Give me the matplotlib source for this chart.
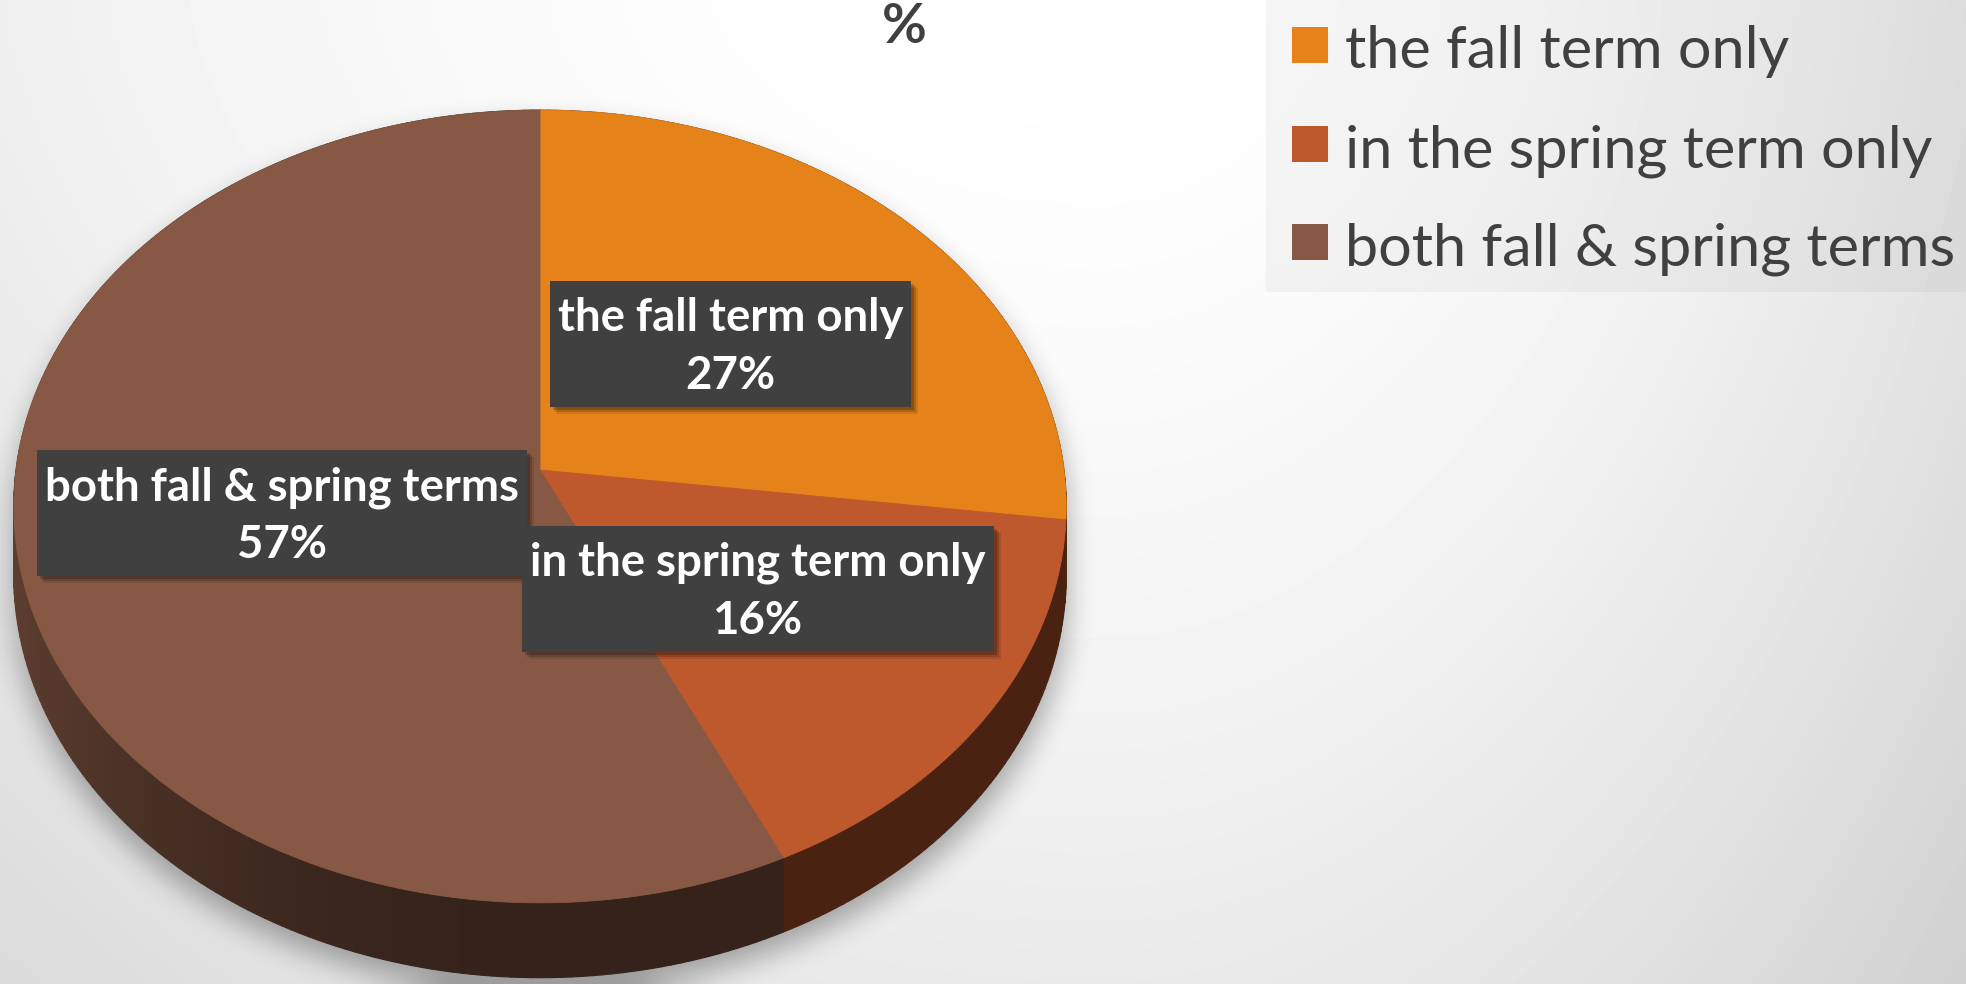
import numpy as np
import matplotlib
matplotlib.use("Agg")
import matplotlib.pyplot as plt
from matplotlib.patches import Polygon, Rectangle
from matplotlib.collections import PolyCollection
from matplotlib.colors import to_rgb

# data
categories = ["the fall term only", "in the spring term only", "both fall & spring terms"]
shares = [27, 16, 57]
colors = ["#E5821A", "#BE582D", "#875945"]
title = "%"

FONT = ["Lato", "DejaVu Sans"]
TXT = "#404040"

W, H = 1966, 984
fig = plt.figure(figsize=(W / 100, H / 100), dpi=100)
ax = fig.add_axes([0, 0, 1, 1])
ax.set_xlim(0, W)
ax.set_ylim(H, 0)
ax.axis("off")
renderer = fig.canvas.get_renderer()

# soft grey background, brightest near the top middle
yy, xx = np.mgrid[0:H, 0:W]
l = np.clip((1100 - xx) / 1100, 0, 1)
r = np.clip((xx - 1100) / 866, 0, 1)
bg = 255 - 16 * l ** 2 - 26 * r ** 2 - 21 * (yy / H) ** 1.5
ax.imshow(bg / 255, cmap="gray", vmin=0, vmax=1, extent=(0, W, H, 0), aspect="auto", zorder=0)

# perspective pie geometry (pixels)
cx, cy = 540, 470
R, Ry, k = 524, 393, 0.092
depth = 68


def project(theta, rad=1.0):
    X = rad * np.sin(theta)
    Y = rad * np.cos(theta)
    s = 1 / (1 + k * Y)
    return cx + R * X * s, cy - Ry * Y * s, s


def shift_down(a, n):
    out = np.zeros_like(a)
    out[n:] = a[:H - n] if n else a
    return out


def blur(a, rr):
    for axis in (0, 1):
        pad = [(rr + 1, rr) if i == axis else (0, 0) for i in range(2)]
        c = np.cumsum(np.pad(a, pad, mode="edge"), axis=axis)
        n = c.shape[axis]
        a = (np.take(c, range(2 * rr + 1, n), axis=axis) - np.take(c, range(0, n - 2 * rr - 1), axis=axis)) / (2 * rr + 1)
    return a


# drop shadow from the pie silhouette
u = (cy - yy) / Ry
Yd = u / (1 - k * u)
Xd = (xx - cx) * (1 + k * Yd) / R
top = (Xd ** 2 + Yd ** 2) <= 1
sil = top.copy()
for sh in range(0, depth + 8, 3):
    sil |= shift_down(top, sh)
sh_mask = shift_down(sil, 14).astype(float)
for _ in range(3):
    sh_mask = blur(sh_mask, 13)
shadow = np.zeros((H, W, 4))
shadow[..., 3] = 0.32 * sh_mask
ax.imshow(shadow, extent=(0, W, H, 0), aspect="auto", zorder=1)

total = sum(shares)
bounds = np.cumsum([0] + shares) / total * 2 * np.pi

# side wall, back segments first
segs = []
for i, (a0, a1) in enumerate(zip(bounds[:-1], bounds[1:])):
    t = np.linspace(a0, a1, max(int(np.degrees(a1 - a0)), 2) + 1)
    for t0, t1 in zip(t[:-1], t[1:]):
        segs.append((np.cos((t0 + t1) / 2), i, t0, t1))
segs.sort(key=lambda q: -q[0])
quads, qcols = [], []
for _, i, t0, t1 in segs:
    x0, y0, s0 = project(t0)
    x1, y1, s1 = project(t1)
    quads.append([(x0, y0), (x1, y1), (x1, y1 + depth * s1), (x0, y0 + depth * s0)])
    tm = (t0 + t1) / 2
    shade = 0.39 + 0.31 * max(0.0, -np.sin(tm)) ** 2
    qcols.append(tuple(np.array(to_rgb(colors[i])) * shade))
ax.add_collection(PolyCollection(quads, facecolors=qcols, edgecolors=qcols, linewidths=0.8, zorder=3))

# top faces
for i, (a0, a1) in enumerate(zip(bounds[:-1], bounds[1:])):
    t = np.linspace(a0, a1, 240)
    x, y, _ = project(t)
    pts = np.column_stack([np.r_[cx, x], np.r_[cy, y]])
    ax.add_patch(Polygon(pts, closed=True, facecolor=colors[i], edgecolor=colors[i], lw=0.6, zorder=4))


def text_width(s, size, weight):
    t = ax.text(0, 0, s, fontsize=size, fontweight=weight, family=FONT)
    w = t.get_window_extent(renderer).width
    t.remove()
    return w


# data labels in dark boxes
lab_size = 20 * 345 / text_width(categories[0], 20, "bold")
for i, (a0, a1) in enumerate(zip(bounds[:-1], bounds[1:])):
    lx, ly, _ = project((a0 + a1) / 2, 0.5)
    w = text_width(categories[i], lab_size, "bold") + 16
    h = 126
    for off, al in [(7, 0.10), (5, 0.15), (3, 0.2)]:
        ax.add_patch(Rectangle((lx - w / 2 + off, ly - h / 2 + off), w, h, facecolor="black",
                               alpha=al, lw=0, zorder=5))
    ax.add_patch(Rectangle((lx - w / 2, ly - h / 2), w, h, facecolor="#404040", lw=0, zorder=6))
    ax.text(lx, ly - 13, categories[i], ha="center", va="baseline", color="white",
            fontsize=lab_size, fontweight="bold", family=FONT, zorder=7)
    ax.text(lx, ly + 45, f"{shares[i]}%", ha="center", va="baseline", color="white",
            fontsize=lab_size, fontweight="bold", family=FONT, zorder=7)

# title
ttl_size = 20 * 45 / text_width(title, 20, "bold")
ax.text(904, 43, title, ha="center", va="baseline", color=TXT, fontsize=ttl_size,
        fontweight="bold", family=FONT, zorder=7)

# legend
ax.add_patch(Rectangle((1266, 0), W - 1266, 292, facecolor="black", alpha=0.035, lw=0, zorder=2))
leg_size = 20 * 612 / text_width(categories[2], 20, "normal")
for i, base in enumerate([68, 167, 265]):
    ax.add_patch(Rectangle((1292, base - 41), 36, 36, facecolor=colors[i], lw=0, zorder=7))
    ax.text(1345, base, categories[i], ha="left", va="baseline", color=TXT,
            fontsize=leg_size, family=FONT, zorder=7)

fig.savefig("out.png", dpi=100)
